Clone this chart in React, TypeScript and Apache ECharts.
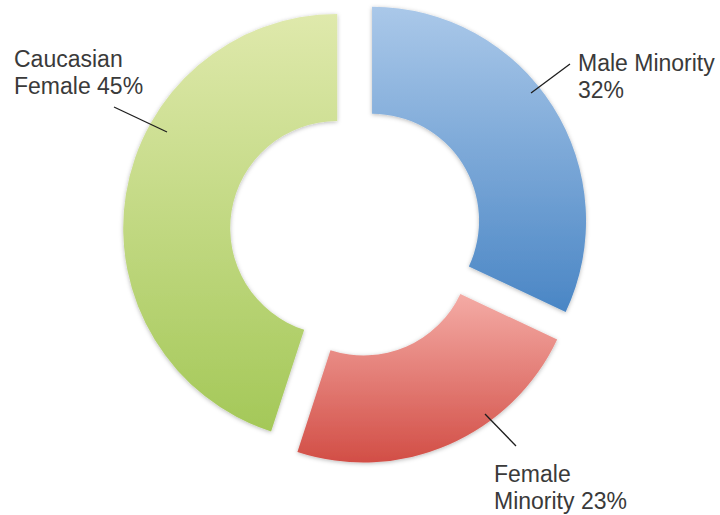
import React, { useEffect, useRef } from "react";
import * as echarts from "echarts";

// ---- data ----
const categories = ["Male Minority", "Female Minority", "Caucasian Female"];
const shares = [32, 23, 45];
// number of words of the name kept on the first label line
const firstLineWords = [2, 1, 1];
// slice gradient colours (top -> bottom)
const topColors = ["#aac8e9", "#f4aba5", "#dfe9ac"];
const bottomColors = ["#4a86c5", "#d24e46", "#a4c858"];

// ---- layout (label anchors, leader lines) ----
const labelAnchors: number[][] = [
  [578, 49],
  [494, 460],
  [14, 45],
];
const leaderLines: number[][] = [
  [570, 64, 531, 93],
  [485, 414, 516, 446],
  [114, 107, 167, 132],
];

function labelText(i: number) {
  const words = categories[i].split(" ");
  const k = firstLineWords[i];
  return (
    words.slice(0, k).join(" ") +
    "\n" +
    [...words.slice(k), shares[i] + "%"].join(" ")
  );
}

export default function App() {
  const ref = useRef<HTMLDivElement>(null);
  useEffect(() => {
    if (!ref.current) return;
    const chart = echarts.init(ref.current, undefined, { renderer: "svg" });
    const data = categories.map((name, i) => {
      const grad = new echarts.graphic.LinearGradient(0, 0, 0, 1, [
        { offset: 0, color: topColors[i] },
        { offset: 1, color: bottomColors[i] },
      ]);
      return {
        name,
        value: shares[i],
        selected: true,
        itemStyle: { color: grad },
        select: { itemStyle: { color: grad } },
        emphasis: { itemStyle: { color: grad } },
      };
    });
    const graphics: any[] = [];
    categories.forEach((_, i) => {
      const [x1, y1, x2, y2] = leaderLines[i];
      graphics.push({
        type: "line",
        silent: true,
        shape: { x1, y1, x2, y2 },
        style: { stroke: "#1e1e1e", lineWidth: 1.3 },
        z: 10,
      });
      graphics.push({
        type: "text",
        silent: true,
        x: labelAnchors[i][0],
        y: labelAnchors[i][1],
        z: 10,
        style: {
          text: labelText(i),
          fill: "#3a3a3a",
          fontFamily: "Liberation Sans, Arial, sans-serif",
          fontSize: 23,
          lineHeight: 27,
          align: "left",
          verticalAlign: "top",
        },
      });
    });
    chart.setOption({
      animation: false,
      backgroundColor: "#ffffff",
      graphic: graphics,
      series: [
        {
          type: "pie",
          center: [356, 231],
          radius: [107, 214],
          startAngle: 90,
          clockwise: true,
          selectedMode: "multiple",
          selectedOffset: 19,
          silent: true,
          itemStyle: {
            shadowBlur: 4,
            shadowColor: "rgba(0,0,0,0.28)",
            shadowOffsetY: 1,
          },
          label: { show: false },
          labelLine: { show: false },
          data,
        },
      ],
    });
    return () => chart.dispose();
  }, []);
  return (
    <div
      ref={ref}
      style={{ position: "fixed", left: 0, top: 0, width: 720, height: 515 }}
    />
  );
}
